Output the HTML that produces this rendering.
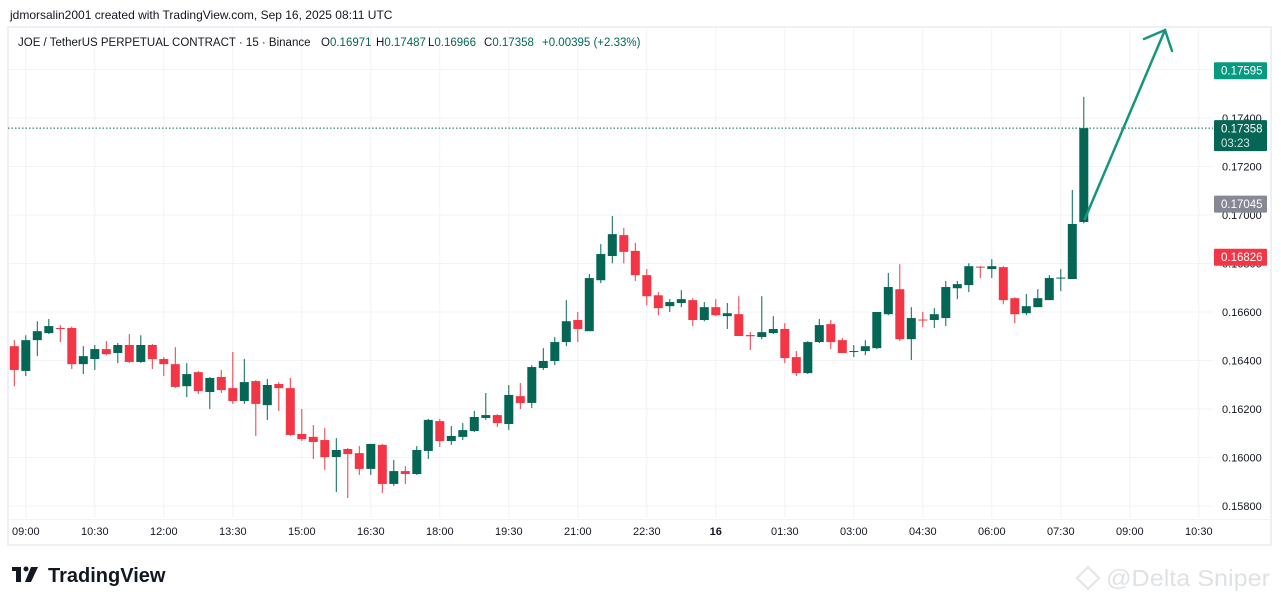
<!DOCTYPE html>
<html><head><meta charset="utf-8">
<style>
body{margin:0;background:#fff;width:1281px;height:605px;overflow:hidden;font-family:"Liberation Sans",sans-serif;}
</style></head>
<body>
<svg id="chart" width="1281" height="605" viewBox="0 0 1281 605" xmlns="http://www.w3.org/2000/svg" style="display:block">
  <text x="10" y="19" font-size="12" fill="#131722">jdmorsalin2001 created with TradingView.com, Sep 16, 2025 08:11 UTC</text>
  <rect x="8" y="27" width="1263" height="518" fill="none" stroke="#eef0f3" stroke-width="2"/>
  <g id="grid"></g>
  <g id="candles"></g>
  <g id="axis"></g>
  <g id="taxis"></g>
  <g font-size="11.5">
    <text x="18" y="46" fill="#131722">JOE / TetherUS PERPETUAL CONTRACT · 15 · Binance</text>
    <text x="321" y="46" fill="#131722">O<tspan fill="#056656">0.16971</tspan></text>
    <text x="376" y="46" fill="#131722">H<tspan fill="#056656">0.17487</tspan></text>
    <text x="428" y="46" fill="#131722">L<tspan fill="#056656">0.16966</tspan></text>
    <text x="484" y="46" fill="#131722">C<tspan fill="#056656">0.17358</tspan></text>
    <text x="542" y="46" fill="#056656">+0.00395 (+2.33%)</text>
  </g>
  <g>
    <rect x="12" y="567" width="9" height="4" fill="#131722"/><rect x="16" y="567" width="5" height="15" fill="#131722"/>
    <circle cx="26" cy="569" r="2.5" fill="#131722"/><polygon points="31,567 38,567 31,582 25,582" fill="#131722"/>
    <text x="48" y="582" font-size="20" font-weight="bold" fill="#131722">TradingView</text>
  </g>
  <text x="1106" y="586" font-size="23" fill="#dfe2e4" textLength="164" lengthAdjust="spacingAndGlyphs">@Delta Sniper</text>
  <polygon points="1088,567 1099,578 1088,589 1077,578" fill="none" stroke="#e2e5e7" stroke-width="2"/>
</svg>
<script>
const timeLabels=["09:00","10:30","12:00","13:30","15:00","16:30","18:00","19:30","21:00","22:30","16","01:30","03:00","04:30","06:00","07:30","09:00","10:30"];
const priceTicks=[0.158,0.160,0.162,0.164,0.166,0.168,0.170,0.172,0.174];
const opens=[.16459,.16357,.16484,.16513,.16534,.16534,.16385,.16406,.16447,.16431,.16464,.16394,.16464,.16406,.16385,.16294,.16352,.16270,.16332,.16286,.16233,.16315,.16216,.16303,.16286,.16097,.16085,.16072,.16002,.16035,.16018,.15953,.16052,.15891,.15944,.15932,.16027,.16150,.16068,.16085,.16109,.16163,.16175,.16138,.16253,.16225,.16369,.16398,.16476,.16567,.16521,.16731,.16831,.16917,.16852,.16752,.16669,.16624,.16637,.16649,.16567,.16620,.16583,.16591,.16505,.16497,.16513,.16530,.16414,.16348,.16476,.16550,.16484,.16435,.16439,.16451,.16591,.16694,.16488,.16569,.16567,.16575,.16698,.16711,.16787,.16777,.16785,.16657,.16595,.16620,.16649,.16738,.16736,.16971];
const highs=[.16484,.16504,.16562,.16571,.16546,.16540,.16459,.16464,.16480,.16472,.16509,.16504,.16468,.16414,.16455,.16389,.16357,.16332,.16361,.16435,.16406,.16319,.16324,.16311,.16328,.16200,.16134,.16122,.16080,.16039,.16047,.16056,.16056,.15990,.15965,.16047,.16159,.16159,.16130,.16142,.16192,.16266,.16179,.16299,.16307,.16381,.16451,.16497,.16649,.16600,.16757,.16880,.16996,.16946,.16885,.16777,.16682,.16653,.16690,.16657,.16641,.16653,.16637,.16665,.16517,.16665,.16583,.16554,.16439,.16480,.16571,.16567,.16493,.16464,.16484,.16600,.16761,.16797,.16620,.16600,.16616,.16728,.16728,.16801,.16789,.16818,.16789,.16661,.16674,.16694,.16752,.16777,.17103,.17487];
const lows=[.16294,.16336,.16418,.16509,.16476,.16365,.16344,.16361,.16422,.16389,.16390,.16390,.16365,.16336,.16287,.16249,.16262,.16200,.16266,.16221,.16221,.16089,.16155,.16192,.16089,.16068,.15994,.15949,.15858,.15833,.15928,.15928,.15854,.15883,.15891,.15928,.15994,.16043,.16052,.16072,.16105,.16155,.16126,.16113,.16200,.16204,.16361,.16381,.16459,.16476,.16521,.16719,.16801,.16801,.16728,.16628,.16587,.16600,.16620,.16542,.16562,.16583,.16530,.16501,.16443,.16488,.16509,.16389,.16336,.16344,.16472,.16447,.16431,.16414,.16422,.16447,.16587,.16480,.16402,.16538,.16534,.16542,.16653,.16682,.16740,.16740,.16632,.16554,.16587,.16620,.16649,.16686,.16736,.16966];
const closes=[.16361,.16484,.16521,.16542,.16530,.16385,.16418,.16447,.16426,.16464,.16394,.16464,.16406,.16385,.16291,.16344,.16274,.16328,.16278,.16233,.16311,.16221,.16299,.16286,.16093,.16076,.16064,.16002,.16031,.16014,.15953,.16056,.15891,.15944,.15932,.16031,.16155,.16068,.16089,.16113,.16167,.16175,.16142,.16258,.16225,.16373,.16398,.16476,.16562,.16530,.16740,.16839,.16921,.16848,.16752,.16665,.16616,.16641,.16653,.16567,.16620,.16587,.16595,.16501,.16500,.16517,.16530,.16410,.16348,.16476,.16546,.16476,.16431,.16439,.16459,.16600,.16703,.16488,.16575,.16565,.16591,.16703,.16715,.16789,.16783,.16789,.16649,.16591,.16624,.16657,.16740,.16742,.16963,.17358];
const axisMarkers=[0.17595,0.17358,0.17045,0.16826];

const NS="http://www.w3.org/2000/svg";
const PL=8,PR=1213,PT=28,PB=518;
function y(p){return 118+(0.174-p)/0.002*48.5;}
function x(i){return 14.3+11.5*i;}
function mk(tag,attrs,parent){const e=document.createElementNS(NS,tag);for(const k in attrs)e.setAttribute(k,attrs[k]);parent.appendChild(e);return e;}
const grid=document.getElementById('grid'),cg=document.getElementById('candles'),ax=document.getElementById('axis'),ta=document.getElementById('taxis');
for(let p=0.158;p<=0.1761;p+=0.002){const l=mk('line',{x1:PL,x2:PR,y1:y(p),y2:y(p),stroke:'#f2f3f5','stroke-width':1},grid);

}
timeLabels.forEach((t,k)=>{const gx=x(1)+69*k;
const l=mk('line',{x1:gx,x2:gx,y1:PT,y2:PB,stroke:'#f2f3f5','stroke-width':1},grid);


const tx=mk('text',{x:gx,y:535,'font-size':11,'text-anchor':'middle',fill:'#131722','font-weight':t==='16'?'bold':'normal'},ta);
tx.textContent=t;

});
mk('line',{x1:8,x2:1271,y1:519.5,y2:519.5,stroke:'#f2f3f5'},ta);
priceTicks.forEach(p=>{const t=mk('text',{x:1222,y:y(p)+4,'font-size':11,fill:'#131722'},ax);
t.textContent=p.toFixed(5);

});
opens.forEach((o,i)=>{const c=closes[i],up=c>=o,col=up?'#056656':'#f23645';
const g=mk('g',{},cg);


mk('line',{x1:x(i),x2:x(i),y1:y(highs[i]),y2:y(lows[i]),stroke:col,'stroke-width':1},g);
const top=y(Math.max(o,c)),bot=y(Math.min(o,c));
mk('rect',{x:x(i)-4.5,y:top,width:9,height:Math.max(1,bot-top),fill:col},g);});
const lp=closes[closes.length-1];
const dl=mk('line',{x1:PL,x2:PR,y1:y(lp),y2:y(lp),stroke:'#056656','stroke-dasharray':'1.5,2','stroke-width':1},cg);


const n=closes.length-1;
const ag=mk('g',{stroke:'#16967c','stroke-width':2.5,fill:'none','stroke-linecap':'round'},cg);


mk('line',{x1:x(n)+1,y1:y(opens[n])-3,x2:1165,y2:30},ag);
mk('polyline',{points:'1144,39 1165,30 1172,51'},ag);
const mcol=['#089981','#056656','#868993','#f23645'];
axisMarkers.forEach((p,k)=>{const yy=y(p);const h=k===1?31:17;const y0=k===1?yy-8:yy-8.5;
const r=mk('rect',{x:1214,y:y0,width:53,height:h,fill:mcol[k],rx:1},ax);


const t=mk('text',{x:1221,y:y0+12.5,'font-size':11.5,fill:'#fff'},ax);t.textContent=p.toFixed(5);


if(k===1){const t2=mk('text',{x:1221,y:y0+27,'font-size':11.5,fill:'#d7e6e0'},ax);t2.textContent='03:23';

}});
</script>
</body></html>
